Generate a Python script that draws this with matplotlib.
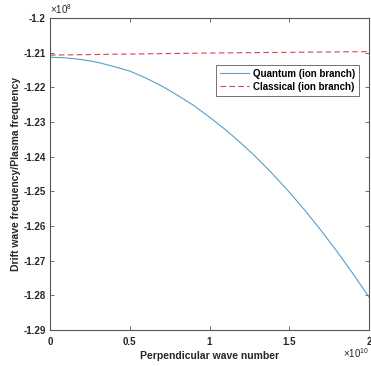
import matplotlib

matplotlib.use("Agg")
import matplotlib.pyplot as plt
from matplotlib.ticker import FuncFormatter

# perpendicular wave number, in units of 1e10
k_quantum = [0.0, 0.1, 0.2, 0.3, 0.4, 0.5, 0.6, 0.7, 0.8, 0.9, 1.0,
             1.1, 1.2, 1.3, 1.4, 1.5, 1.6, 1.7, 1.8, 1.9, 2.0]
# drift / plasma frequency, in units of 1e8
w_quantum = [-1.2113, -1.2115, -1.2120, -1.2128, -1.2140, -1.2153, -1.2173,
             -1.2196, -1.2223, -1.2252, -1.2286, -1.2322, -1.2362, -1.2405,
             -1.2452, -1.2502, -1.2556, -1.2613, -1.2674, -1.2738, -1.2805]

k_classical = [0.0, 0.5, 1.0, 1.5, 2.0]
w_classical = [-1.2107, -1.2104, -1.2101, -1.2099, -1.2097]

x_ticks = [0, 0.5, 1, 1.5, 2]
y_ticks = [-1.29, -1.28, -1.27, -1.26, -1.25, -1.24, -1.23, -1.22, -1.21, -1.20]

plt.rcParams["font.family"] = ["Liberation Sans", "DejaVu Sans"]
plt.rcParams["mathtext.fontset"] = "custom"
plt.rcParams["mathtext.rm"] = "Liberation Sans"
plt.rcParams["mathtext.it"] = "Liberation Sans"

fig = plt.figure(figsize=(3.71, 3.66), dpi=100)
ax = fig.add_axes([50 / 371, 1 - 330 / 366, 319 / 371, 312 / 366])

ax.plot(k_quantum, w_quantum, color="#5a9ec9", lw=0.8, label="Quantum (ion branch)")
ax.plot(k_classical, w_classical, color="#d9434a", lw=0.8, ls=(0, (5, 3)),
        label="Classical (ion branch)")

ax.set_xlim(0, 2)
ax.set_ylim(-1.29, -1.20)
ax.set_xticks(x_ticks)
ax.set_yticks(y_ticks)
fmt = FuncFormatter(lambda v, _: f"{v:g}")
ax.xaxis.set_major_formatter(fmt)
ax.yaxis.set_major_formatter(fmt)

for s in ax.spines.values():
    s.set_color("#555555")
    s.set_linewidth(0.8)
ax.tick_params(direction="in", length=3, width=0.6, colors="#555555",
               labelcolor="#262626", labelsize=7, top=True, right=True)
ax.tick_params(axis="x", pad=5)
ax.tick_params(axis="y", pad=3)
for lab in ax.get_xticklabels() + ax.get_yticklabels():
    lab.set_fontweight("bold")

ax.set_xlabel("Perpendicular wave number", fontsize=7.5, fontweight="bold",
              color="#262626", labelpad=3)
ax.set_ylabel("Drift wave frequency/Plasma frequency", fontsize=7.5,
              fontweight="bold", color="#262626", labelpad=2)

ax.text(0.0, 1.005, r"$\times10^{8}$", transform=ax.transAxes, fontsize=7,
        color="#262626", ha="left", va="bottom")
ax.text(1.0, -0.075, r"$\times10^{10}$", transform=ax.transAxes, fontsize=7,
        color="#262626", ha="right", va="center")

leg = ax.legend(loc="upper right", bbox_to_anchor=(0.985, 0.865), fontsize=7,
                frameon=True, fancybox=False, borderpad=0.4, handlelength=3,
                handletextpad=0.4, labelspacing=0.3)
leg.get_frame().set_edgecolor("#333333")
leg.get_frame().set_linewidth(0.6)
for t in leg.get_texts():
    t.set_fontweight("bold")

fig.savefig("out.png", dpi=100)
